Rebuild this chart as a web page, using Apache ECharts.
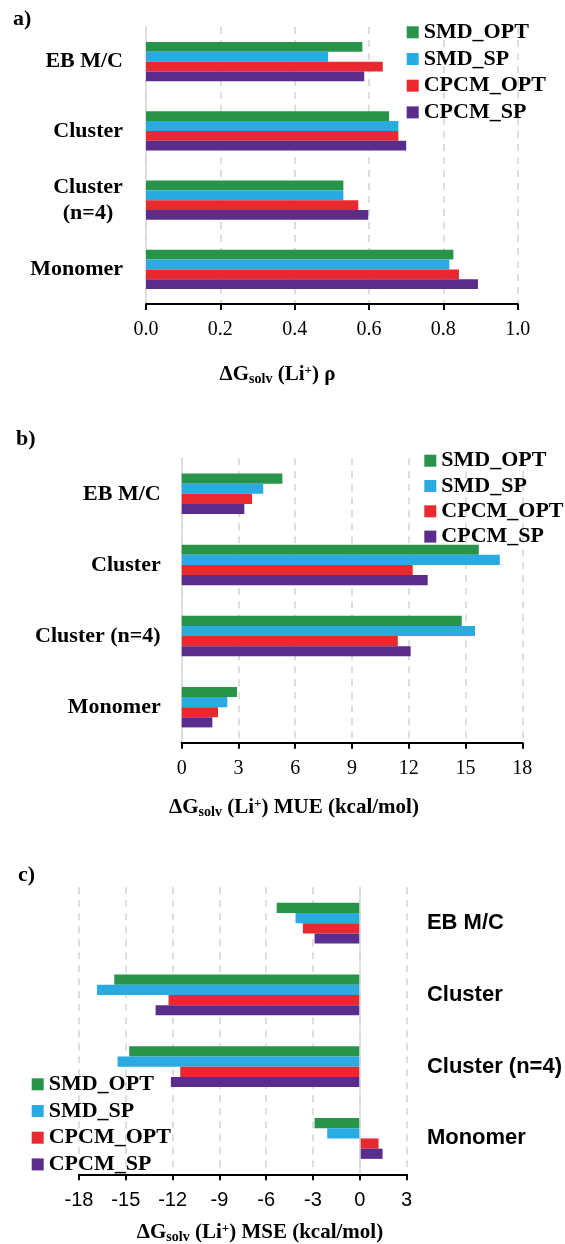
<!DOCTYPE html>
<html>
<head>
<meta charset="utf-8">
<script src="https://cdn.jsdelivr.net/npm/echarts@6/dist/echarts.min.js"></script>
<style>
  html, body { margin: 0; padding: 0; background: #fff; }
  #chart { width: 565px; height: 1244px; }
</style>
</head>
<body>
<div id="chart"></div>
<script>
// Categories (top to bottom) and solvation models
const categories = ['EB M/C', 'Cluster', 'Cluster (n=4)', 'Monomer'];
const seriesNames = ['SMD_OPT', 'SMD_SP', 'CPCM_OPT', 'CPCM_SP'];
const seriesColors = ['#27944A', '#29ABE2', '#E8292E', '#5A2D8C'];

// a) correlation coefficient rho
const rhoSmdOpt = [0.582, 0.654, 0.531, 0.827];
const rhoSmdSp = [0.490, 0.679, 0.531, 0.816];
const rhoCpcmOpt = [0.637, 0.679, 0.571, 0.842];
const rhoCpcmSp = [0.587, 0.700, 0.598, 0.893];

// b) mean unsigned error (kcal/mol)
const mueSmdOpt = [5.32, 15.70, 14.80, 2.92];
const mueSmdSp = [4.31, 16.81, 15.50, 2.41];
const mueCpcmOpt = [3.72, 12.21, 11.42, 1.92];
const mueCpcmSp = [3.31, 13.00, 12.10, 1.62];

// c) mean signed error (kcal/mol)
const mseSmdOpt = [-5.33, -15.74, -14.78, -2.90];
const mseSmdSp = [-4.12, -16.85, -15.53, -2.09];
const mseCpcmOpt = [-3.65, -12.26, -11.51, 1.20];
const mseCpcmSp = [-2.90, -13.09, -12.11, 1.46];

// value axis ranges: [min, max, interval]
const rhoAxis = [0, 1, 0.2];
const mueAxis = [0, 18, 3];
const mseAxis = [-18, 3, 3];

const SERIF = '"Liberation Serif", "Times New Roman", serif';
const SANS = '"Liberation Sans", Arial, sans-serif';

const panels = [
  { grid: { left: 146, top: 27, width: 371.7, height: 277 },
    axis: rhoAxis, fmt: v => v.toFixed(1), tickFont: SERIF, tickSize: 20,
    catFont: SERIF, catSize: 22, catPos: 'left', catMargin: 23, wrapCats: true,
    data: [rhoSmdOpt, rhoSmdSp, rhoCpcmOpt, rhoCpcmSp],
    legend: { left: 406.7, top: 21.3, itemGap: 4.7 } },
  { grid: { left: 181.7, top: 458.3, width: 340.6, height: 284.4 },
    axis: mueAxis, fmt: v => String(v), tickFont: SERIF, tickSize: 20,
    catFont: SERIF, catSize: 22, catPos: 'left', catMargin: 21, wrapCats: false,
    data: [mueSmdOpt, mueSmdSp, mueCpcmOpt, mueCpcmSp],
    legend: { left: 424.3, top: 449.7, itemGap: 3.3 } },
  { grid: { left: 79, top: 887.3, width: 327.7, height: 287 },
    axis: mseAxis, fmt: v => String(v), tickFont: SANS, tickSize: 20,
    catFont: SANS, catSize: 22, catPos: 'right', catMargin: 20.3, wrapCats: false,
    data: [mseSmdOpt, mseSmdSp, mseCpcmOpt, mseCpcmSp],
    legend: { left: 31.7, top: 1073.3, itemGap: 4.7 } }
];

const grids = [], xAxes = [], yAxes = [], series = [], legends = [];

panels.forEach((p, i) => {
  grids.push(Object.assign({ containLabel: false }, p.grid));

  xAxes.push({
    type: 'value', gridIndex: i,
    min: p.axis[0], max: p.axis[1], interval: p.axis[2],
    axisLine: { show: true, onZero: false, lineStyle: { color: '#000', width: 2 } },
    axisTick: { show: true, length: 6, lineStyle: { color: '#000', width: 2 } },
    splitLine: { show: true, lineStyle: { color: '#d4d4d4', width: 1.5, type: [7, 6] } },
    axisLabel: { margin: 16, fontFamily: p.tickFont, fontSize: p.tickSize, color: '#000', formatter: p.fmt }
  });

  const catLabel = {
    margin: p.catMargin, fontFamily: p.catFont, fontSize: p.catSize,
    fontWeight: 'bold', color: '#000'
  };
  if (p.catPos === 'right') catLabel.align = 'left';
  if (p.wrapCats) {
    catLabel.formatter = v => {
      const k = v.indexOf(' (');
      if (k < 0) return v;
      return '{c|' + v.slice(0, k) + '}\n{c|' + v.slice(k + 1) + '}';
    };
    catLabel.rich = {
      c: { width: 70, align: 'center', fontFamily: p.catFont, fontSize: p.catSize,
           fontWeight: 'bold', color: '#000', lineHeight: 26 }
    };
  }

  yAxes.push({
    type: 'category', gridIndex: i, data: categories, inverse: true,
    position: p.catPos,
    axisTick: { show: false },
    axisLine: p.catPos === 'left'
      ? { show: true, lineStyle: { color: '#d9d9d9', width: 1.5 } }
      : { show: false, onZero: false },
    axisLabel: catLabel,
    splitLine: { show: false }
  });

  p.data.forEach((vals, j) => {
    const s = {
      type: 'bar', name: seriesNames[j],
      xAxisIndex: i, yAxisIndex: i, data: vals,
      itemStyle: { color: seriesColors[j] },
      barGap: '0%', barCategoryGap: '43%'
    };
    if (p.catPos === 'right' && j === 0) {
      // solid zero line through the middle of the signed-error panel
      s.markLine = {
        silent: true, symbol: ['none', 'none'], label: { show: false },
        lineStyle: { color: '#d9d9d9', width: 1.5, type: 'solid' },
        data: [{ xAxis: 0 }]
      };
    }
    series.push(s);
  });

  legends.push({
    orient: 'vertical', left: p.legend.left, top: p.legend.top,
    padding: 0, itemGap: p.legend.itemGap, itemWidth: 12, itemHeight: 12,
    icon: 'rect', selectedMode: false, data: seriesNames,
    textStyle: { fontFamily: SERIF, fontSize: 22, fontWeight: 'bold', color: '#000', lineHeight: 22 }
  });
});

function axisTitleRich() {
  const base = { fontFamily: SERIF, fontWeight: 'bold', color: '#000' };
  return {
    m: Object.assign({ fontSize: 21, lineHeight: 22 }, base),
    s: Object.assign({ fontSize: 14, lineHeight: 14, verticalAlign: 'bottom' }, base),
    p: Object.assign({ fontSize: 13, lineHeight: 10, verticalAlign: 'top' }, base)
  };
}

function axisTitle(rest, x, y) {
  return {
    text: '{m|\u0394G}{s|solv}{m| (Li}{p|+}{m|) ' + rest + '}',
    left: x, top: y, textAlign: 'center', padding: 0,
    textStyle: { rich: axisTitleRich() }
  };
}

function panelLetter(t, x, y) {
  return {
    text: t, left: x, top: y, padding: 0,
    textStyle: { fontFamily: SERIF, fontSize: 22, fontWeight: 'bold', color: '#000' }
  };
}

const chart = echarts.init(document.getElementById('chart'));
chart.setOption({
  animation: false,
  backgroundColor: '#fff',
  title: [
    panelLetter('a)', 13, 8),
    panelLetter('b)', 16, 428),
    panelLetter('c)', 18, 864),
    axisTitle('\u03C1', 277.5, 364),
    axisTitle('MUE (kcal/mol)', 294, 797),
    axisTitle('MSE (kcal/mol)', 260, 1222)
  ],
  legend: legends,
  grid: grids,
  xAxis: xAxes,
  yAxis: yAxes,
  series: series
});
</script>
</body>
</html>
